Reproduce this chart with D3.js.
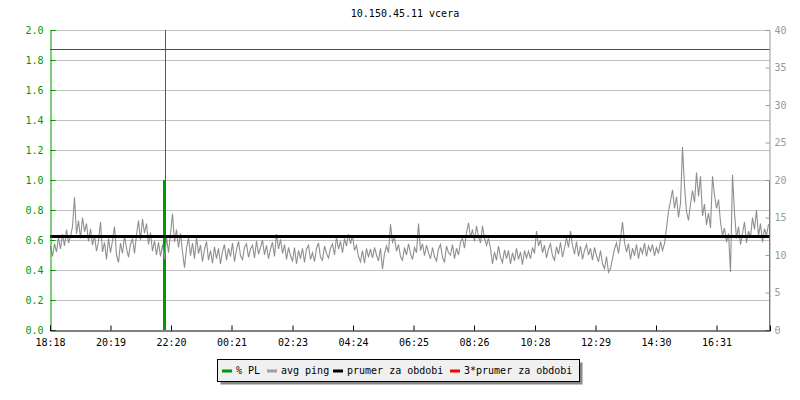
<!DOCTYPE html>
<html><head><meta charset="utf-8">
<script src="https://cdn.jsdelivr.net/npm/d3@7"></script>
<style>
html,body{margin:0;padding:0;background:#fff;}
svg text{font-family:"DejaVu Sans Mono",monospace;font-size:10px;}
</style></head>
<body><svg id="c" width="800" height="400"></svg>
<script>
const title = "10.150.45.11 vcera";
const tickMinutes = [0,121,242,363,485,606,727,848,970,1091,1212,1333];
const tickLabels = ["18:18","20:19","22:20","00:21","02:23","04:24","06:25","08:26","10:28","12:29","14:30","16:31"];
const spanMinutes = 1440;
const sampleStep = 4;
// avg ping (ms), one sample every 4 minutes
const avgPing = [
11.2,9.8,11.5,10.4,12.3,10.8,12.8,11.2,13.4,11.6,12.5,13.8,17.7,12.8,14.6,12.2,15.0,13.1,14.2,11.8,
13.5,11.3,12.6,10.5,11.8,14.4,10.4,11.7,9.4,12.2,10.3,11.9,13.8,10.0,9.0,11.6,10.2,12.6,10.9,9.7,
11.4,12.2,10.2,12.7,14.6,12.0,14.8,12.9,14.2,11.4,13.0,10.5,11.9,10.0,11.7,9.8,11.4,9.4,12.4,10.3,
12.8,15.5,11.7,13.4,11.0,12.9,10.4,8.3,10.9,12.3,9.9,11.6,9.5,12.4,10.2,11.3,9.1,10.8,11.8,9.3,
10.6,8.9,11.1,9.5,10.9,8.8,10.5,11.4,9.3,10.9,9.8,11.6,9.1,10.7,11.8,9.9,9.4,11.0,11.5,9.7,
10.8,11.3,9.6,11.9,10.1,11.0,12.0,10.0,11.3,9.5,10.8,11.7,9.8,12.8,10.8,12.1,10.2,11.4,9.4,11.0,
9.9,9.2,11.0,8.8,10.6,9.5,10.9,9.0,10.8,11.3,9.4,10.3,9.1,10.9,11.6,9.7,9.3,11.2,10.2,9.6,
10.9,11.5,10.0,12.4,10.8,11.8,10.3,12.2,11.2,12.8,11.5,12.6,10.6,11.3,9.8,9.1,10.6,8.9,10.9,9.7,
10.8,9.6,11.0,10.0,9.2,10.9,8.1,10.2,11.2,10.3,14.1,11.7,12.3,10.5,11.4,9.8,9.3,11.0,10.0,11.5,
10.2,9.4,11.0,10.3,14.2,10.6,11.5,9.9,11.3,10.3,9.5,11.0,9.8,9.2,10.8,11.4,9.7,9.0,11.2,10.3,
10.0,11.4,9.5,10.9,10.0,11.7,12.2,10.9,13.0,14.3,12.3,13.4,11.8,13.9,12.4,11.6,13.9,12.2,11.3,12.2,
10.9,8.8,10.4,9.3,11.2,9.7,9.0,10.7,9.5,10.6,8.8,10.3,9.2,10.9,9.4,10.4,8.7,10.6,9.6,10.5,
9.5,11.0,10.2,13.2,11.2,12.0,10.3,11.3,9.6,10.8,11.5,9.9,9.3,11.1,10.1,11.7,9.7,10.9,12.3,11.0,
13.2,11.3,10.1,11.8,9.8,11.2,9.4,10.6,11.4,10.0,10.9,9.3,11.0,9.9,9.1,10.6,8.8,8.2,9.8,7.7,
8.2,9.5,10.8,11.6,10.2,12.2,14.4,11.7,10.4,11.5,9.4,10.9,9.9,11.4,9.5,11.0,10.2,11.6,9.8,11.2,
10.5,11.4,9.9,11.0,10.2,11.8,10.6,11.5,13.6,15.8,17.2,18.7,16.2,17.8,15.0,16.9,24.4,19.2,15.8,14.6,
16.8,18.6,17.0,21.0,17.8,20.5,15.2,16.8,14.0,15.6,13.6,20.5,18.0,16.2,17.4,14.4,12.6,13.6,11.7,12.9,
7.7,20.7,15.6,12.2,13.8,11.4,12.9,14.4,11.6,13.2,12.3,15.0,13.4,16.0,12.5,14.2,11.7,13.5,12.6,14.1
];
const periodAvg = 12.47;        // prumer za obdobi (ms)
const plStart = [226, 229, 1438];  // % PL events (minutes)
const plEnd   = [232, 231, 1440];
const plValue = [1.0, 2.5, 1.0];
const leftTicks = [0,0.2,0.4,0.6,0.8,1.0,1.2,1.4,1.6,1.8,2.0];
const rightTicks = [0,5,10,15,20,25,30,35,40];
const legendItems = ["% PL","avg ping","prumer za obdobi","3*prumer za obdobi"];
const legendColors = ["#009900","#a0a0a0","#000000","#ff0000"];

const svg = d3.select("#c");
const L=50,R=770,T=30,B=330;
const x = d3.scaleLinear().domain([0,spanMinutes]).range([L,R]);
const yL = d3.scaleLinear().domain([0,2]).range([B,T]);
const yR = d3.scaleLinear().domain([0,40]).range([B,T]);

svg.append("defs").append("clipPath").attr("id","pc")
  .append("rect").attr("x",L).attr("y",T).attr("width",R-L).attr("height",B-T);

// grid
svg.append("g").selectAll("line").data(leftTicks.filter(d=>d>0)).join("line")
  .attr("x1",L).attr("x2",R).attr("y1",d=>Math.round(yL(d))+0.5).attr("y2",d=>Math.round(yL(d))+0.5)
  .attr("stroke","#c0c0c0").attr("stroke-width",1);

const plot = svg.append("g").attr("clip-path","url(#pc)");
// PL bars
const pl = plStart.map((s,i)=>({s, e:plEnd[i], v:plValue[i]}));
plot.append("g").selectAll("rect").data(pl).join("rect")
  .attr("x",d=>x(d.s)).attr("width",d=>Math.max(1,x(d.e)-x(d.s)))
  .attr("y",d=>yL(d.v)).attr("height",d=>B-yL(d.v))
  .attr("fill","#009900").attr("shape-rendering","crispEdges");

// ping line
const ping = avgPing.map((v,i)=>({t:i*sampleStep, v}));
plot.append("path").datum(ping)
  .attr("d", d3.line().x(d=>x(d.t)+0.5).y(d=>yR(d.v)))
  .attr("fill","none").attr("stroke","#8f8f8f").attr("stroke-width",1.1);

// average lines
svg.append("line").attr("x1",L).attr("x2",R).attr("y1",yR(periodAvg)).attr("y2",yR(periodAvg))
  .attr("stroke","#000").attr("stroke-width",3).attr("shape-rendering","crispEdges");
svg.append("line").attr("x1",L).attr("x2",R).attr("y1",Math.round(yR(3*periodAvg))+0.5).attr("y2",Math.round(yR(3*periodAvg))+0.5)
  .attr("stroke","#ff0000").attr("stroke-width",1);

// left axis
const minorL = d3.range(0,21).map(i=>i/10);
const gl = svg.append("g").attr("transform",`translate(${L+0.5},0)`);
gl.call(d3.axisLeft(yL).tickValues(minorL).tickSize(-3).tickFormat(""));
gl.call(d3.axisLeft(yL).tickValues(leftTicks).tickSize(-5).tickPadding(7).tickFormat(d3.format(".1f")));
gl.selectAll("path,line").attr("stroke","#009900");
gl.selectAll("text").attr("fill","#009900").style("font-size","10px").style("font-family","DejaVu Sans Mono");

// right axis
const gr = svg.append("g").attr("transform",`translate(${R-0.5},0)`);
gr.call(d3.axisRight(yR).tickValues(d3.range(0,41)).tickSize(-4).tickFormat(""));
gr.call(d3.axisRight(yR).tickValues(rightTicks).tickSize(-4).tickPadding(5));
gr.selectAll("path,line").attr("stroke","#999999");
gr.selectAll("text").attr("fill","#999999").style("font-size","10px").style("font-family","DejaVu Sans Mono");

// bottom axis
const gb = svg.append("g").attr("transform",`translate(0,${B+0.5})`);
gb.call(d3.axisBottom(x).tickValues(tickMinutes).tickSize(-5).tickPadding(8)
  .tickFormat((d,i)=>tickLabels[i]));
gb.selectAll("path,line").attr("stroke","#000");
gb.selectAll("text").attr("fill","#000").style("font-size","10px").style("font-family","DejaVu Sans Mono");

// title
svg.append("text").attr("x",405).attr("y",17).attr("text-anchor","middle").text(title);

// legend
const lg = svg.append("g");
lg.append("rect").attr("x",220.5).attr("y",362.5).attr("width",362).attr("height",22).attr("fill","#888");
lg.append("rect").attr("x",217.5).attr("y",359.5).attr("width",362).attr("height",22).attr("fill","#f0f0f0").attr("stroke","#000");
const lx = [222,267,333,450];
legendItems.forEach((t,i)=>{
  lg.append("line").attr("x1",lx[i]).attr("x2",lx[i]+10).attr("y1",371).attr("y2",371)
    .attr("stroke",legendColors[i]).attr("stroke-width",3);
  lg.append("text").attr("x",lx[i]+14).attr("y",374).text(t);
});
</script></body></html>
